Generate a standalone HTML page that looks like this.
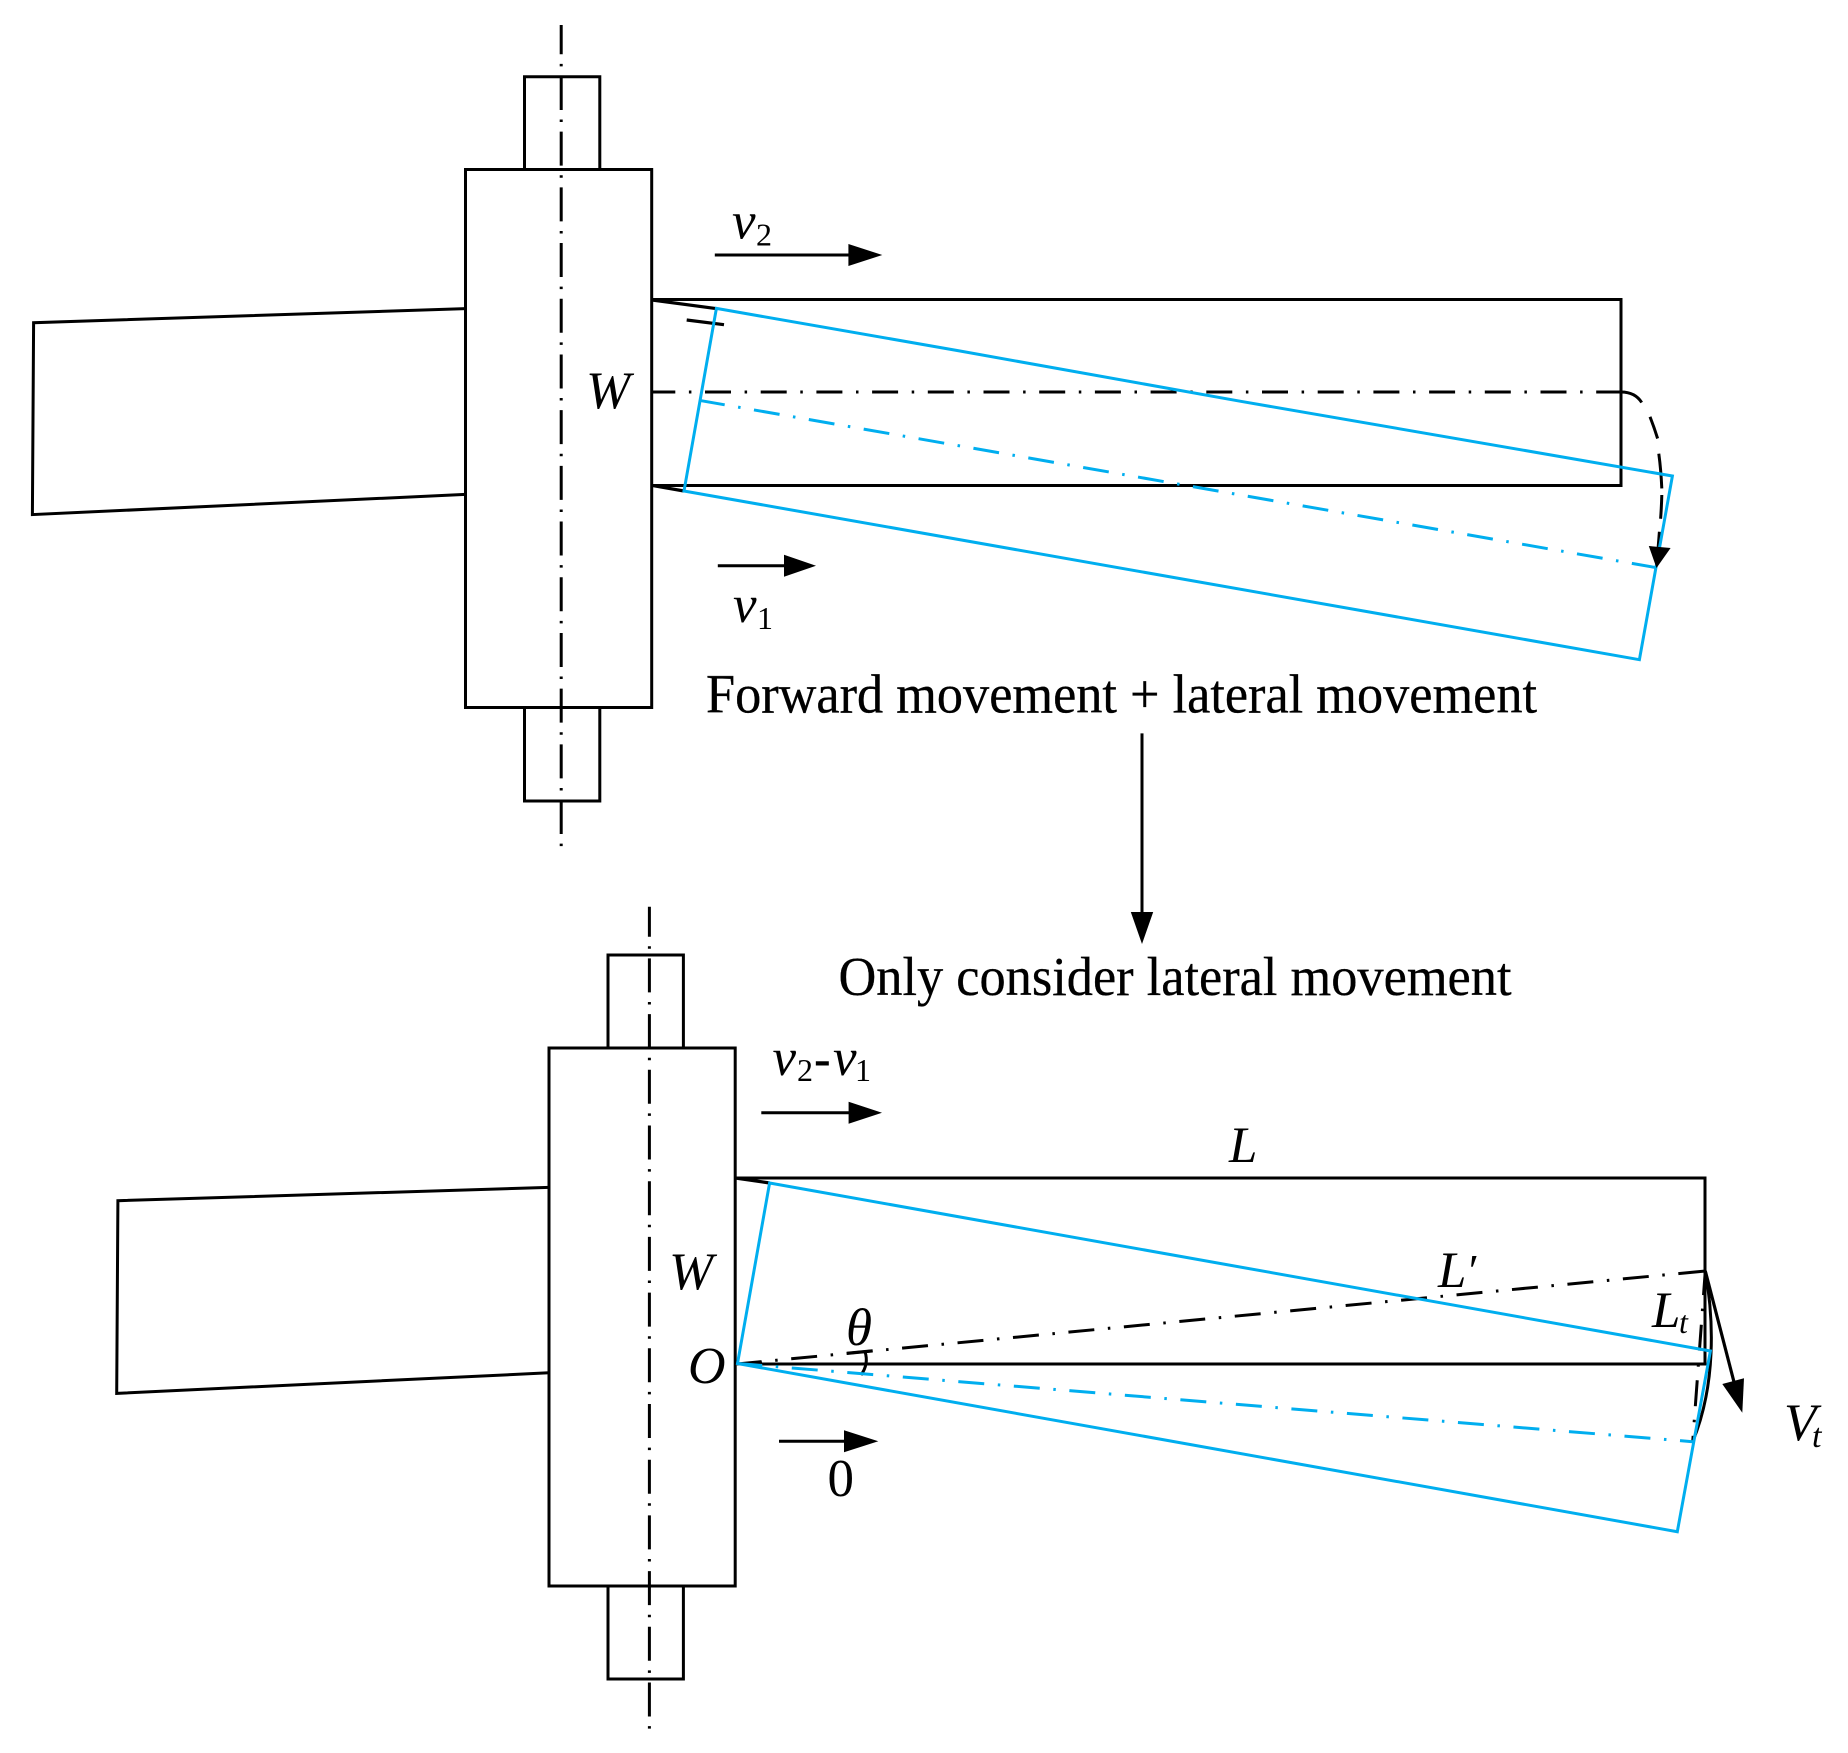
<!DOCTYPE html>
<html><head><meta charset="utf-8"><style>
html,body{margin:0;padding:0;background:#fff}
svg{display:block}
text{font-family:"Liberation Serif",serif;fill:#000}
.i{font-style:italic}
</style></head><body>
<svg width="1848" height="1753" viewBox="0 0 1848 1753" xmlns="http://www.w3.org/2000/svg">
<rect width="1848" height="1753" fill="#fff"/>
<g fill="none" stroke="#000" stroke-width="3" stroke-linejoin="miter">
<!-- top assembly -->
<path d="M524.5 169.5V76.8H599.8V169.5"/>
<rect x="465.5" y="169.5" width="186.2" height="538"/>
<path d="M524.5 707.5V801H599.8V707.5"/>
<path d="M465.5 308.6L33.6 322.7L32.4 514.6L465.5 494.4"/>
<path d="M651.7 299.5H1621V485.5H651.7"/>
<path d="M652 300L716 308.6" stroke-width="3.2"/>
<path d="M652 485.4L684 491" stroke-width="3.2"/>
<path d="M686.7 320L724 324.7" stroke-width="3.2"/>
<!-- bottom assembly -->
<path d="M608 1048V955H683.4V1048"/>
<rect x="549" y="1048" width="186.2" height="538"/>
<path d="M608 1586V1679H683.4V1586"/>
<path d="M549 1187.4L117.9 1200.7L116.7 1393.4L549 1372.8"/>
<path d="M735.4 1178H1705V1271"/>
<path d="M1705 1271V1364H745"/>
<path d="M735.4 1178L769.6 1183" stroke-width="3.2"/>
<path d="M1705.3 1271C1714 1320 1716 1385 1692.7 1441.7" stroke-width="3"/>
<path d="M846.7 1353.3L872.7 1350.7" stroke-width="3"/>
<path d="M865 1351.7Q869 1364 861 1375" stroke-width="3"/>
</g>
<path d="M741 1363.3L762 1361.5V1365Z" fill="#000"/>
<!-- centre lines -->
<g fill="none" stroke="#000" stroke-width="3">
<path d="M561.2 25V848" stroke-dasharray="34 9.6 2.5 9.6" stroke-dashoffset="4.75"/>
<path d="M649.4 906.7V1729" stroke-dasharray="34 9.6 2.5 9.6" stroke-dashoffset="4"/>
<g stroke-dasharray="26 13.6 2.5 13.6">
<path d="M651.7 392H1621" stroke-dashoffset="2.4"/>
<path d="M737 1364L1705.3 1271" stroke-dashoffset="1.25"/>
<path d="M1705.3 1271L1692.7 1441.7" stroke-dashoffset="1.85"/>
</g>
<path d="M1621 392Q1635 392 1641.7 402.5"/>
<path d="M1650 416.8Q1654 427 1657.6 438.5"/>
<path d="M1658.8 453.7Q1661 470 1661.8 488.4"/>
<path d="M1661.8 495Q1661.5 507 1660.6 518.7"/>
<path d="M1659.4 531.7L1658.2 547"/>
</g>
<!-- blue -->
<g fill="none" stroke="#00AEEF" stroke-width="3">
<path d="M716.4 308.4L960 351L1240 401.2L1672.4 476L1639.4 659.7L684 491Z"/>
<path d="M769.6 1183L1710.4 1351L1677.3 1531.7L737.5 1363.5Z"/>
<path d="M701.2 400.7L1656.5 567.7" stroke-dasharray="26 13.6 2.5 13.6" stroke-dashoffset="2.15"/>
<path d="M737.5 1363.5L1692.7 1441.7" stroke-dasharray="26 13.6 2.5 13.6" stroke-dashoffset="1.25"/>
</g>
<!-- arrows -->
<g stroke="#000" stroke-width="3" fill="#000">
<path d="M714.8 255H850"/><path d="M848.4 244L882.3 255L848.4 266Z" stroke="none"/>
<path d="M717.8 565.7H786"/><path d="M784 554.7L816 565.7L784 576.7Z" stroke="none"/>
<path d="M1142 733.4V914"/><path d="M1130.8 912H1153.2L1142 944Z" stroke="none"/>
<path d="M761.3 1112.7H850"/><path d="M848.6 1101.7L882 1112.7L848.6 1123.7Z" stroke="none"/>
<path d="M779 1441.3H846"/><path d="M844 1430.3L878.3 1441.3L844 1452.3Z" stroke="none"/>
<path d="M1705.3 1271L1734 1382" stroke-width="3.2"/><path d="M1722.3 1384L1744 1378.3L1742.3 1412.7Z" stroke="none"/>
<path d="M1648.8 546L1670.6 548L1656.5 568Z" stroke="none"/>
</g>
<!-- labels -->
<text x="706" y="712.7" font-size="55" textLength="831" lengthAdjust="spacingAndGlyphs" stroke="#000" stroke-width=".3">Forward movement + lateral movement</text>
<text x="838.5" y="995" font-size="55" textLength="673" lengthAdjust="spacingAndGlyphs" stroke="#000" stroke-width=".3">Only consider lateral movement</text>
<text class="i" x="732" y="238.5" font-size="53">v</text><text x="756" y="245.7" font-size="32">2</text>
<text class="i" x="733" y="621.8" font-size="53">v</text><text x="757" y="629" font-size="32">1</text>
<text class="i" x="586" y="408" font-size="53">W</text>
<text class="i" x="669" y="1289" font-size="53">W</text>
<text class="i" x="688" y="1382.8" font-size="52">O</text>
<text class="i" x="846" y="1345" font-size="53">θ</text>
<text x="827.5" y="1496" font-size="53">0</text>
<text class="i" x="772.5" y="1075" font-size="53">v</text><text x="797" y="1081" font-size="32">2</text><text x="814" y="1075" font-size="50" font-weight="bold">-</text><text class="i" x="833" y="1075" font-size="53">v</text><text x="855" y="1081" font-size="32">1</text>
<text class="i" x="1229" y="1162" font-size="51">L</text>
<text class="i" x="1438" y="1287" font-size="51">L</text><text class="i" x="1466" y="1286" font-size="46">′</text>
<text class="i" x="1652" y="1327" font-size="51">L</text><text class="i" x="1679" y="1333" font-size="32">t</text>
<text class="i" x="1784" y="1440" font-size="53">V</text><text class="i" x="1812" y="1447" font-size="34">t</text>
</svg>
</body></html>
